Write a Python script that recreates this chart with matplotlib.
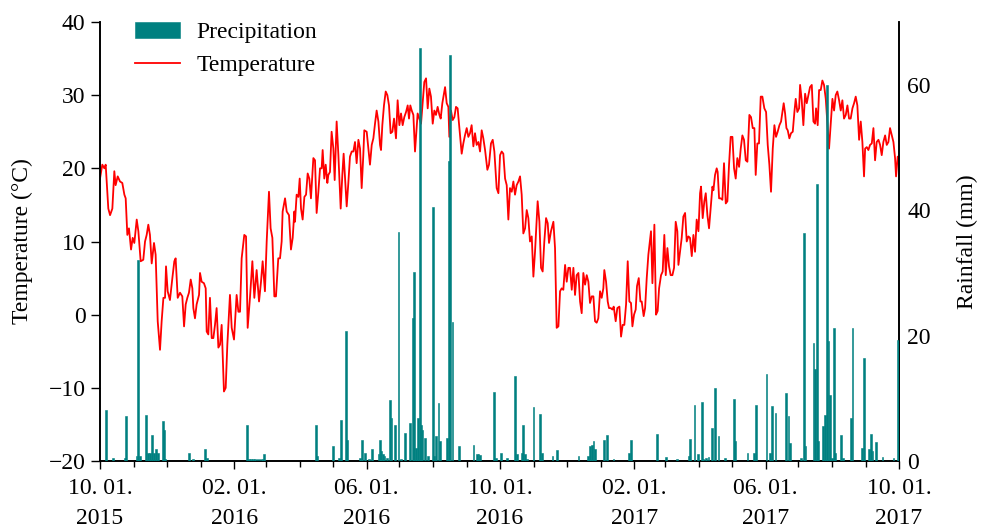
import matplotlib
matplotlib.use("Agg")
import matplotlib.pyplot as plt
import matplotlib.dates as mdates
import numpy as np
import datetime as dt

# ---------------- data ----------------
start_date = dt.datetime(2015, 10, 1)
end_date = dt.datetime(2017, 10, 1)

# daily mean temperature: day offset from 2015-10-01 and value in deg C
temp_days = [
    0, 2.1, 4.0, 5.2, 7.6, 9.2, 11.3, 13.1, 14.3, 16.2, 18.3, 20.4, 22.3, 23.5, 25.0, 26.5, 28.4, 29.9,
    31.4, 33.6, 35.1, 37.2, 39.6, 41.2, 42.7, 44.2, 45.7, 47.3, 49.4, 50.9, 52.8, 54.9, 56.4, 58.0,
    59.5, 60.4, 61.9, 64.0, 66.2, 68.0, 69.2, 71.1, 73.2, 75.3, 76.9, 78.4, 79.9, 81.4, 83.0, 84.5,
    85.4, 86.9,
    88.4, 90.6, 91.5, 93.0, 95.1, 96.7, 97.6, 99.1, 100.6, 102.2, 103.7, 105.2, 106.7, 108.3, 109.8,
    111.3, 113.4, 115.0, 116.5, 118.9, 120.5, 122.6, 125.0, 126.6, 128.1, 129.6, 132.0, 133.6, 135.1,
    137.2, 139.4, 141.2, 143.3, 145.5, 147.3, 148.8, 150.9, 152.5, 154.6, 156.1, 157.7, 159.5, 161.0,
    163.1, 164.7, 166.2, 167.1, 169.3, 170.8, 172.9, 174.7, 176.3, 177.8,
    178.4, 179.9, 181.5, 182.7, 183.9, 185.4, 187.0, 188.5, 190.0, 191.5, 193.0, 195.2, 196.7, 198.2,
    199.8, 201.3, 202.8, 203.7, 205.2, 206.5, 208.0, 208.9, 210.4, 211.9, 213.5, 214.7, 216.5, 218.1,
    220.2, 221.7, 222.9, 224.2, 225.7, 227.2, 228.7, 230.3, 231.8, 233.3, 234.8, 236.4, 237.9, 239.4,
    240.9, 241.8, 244.0, 245.5, 247.0, 248.6, 250.1, 251.6, 253.1, 254.7, 256.2, 257.1, 258.3, 259.8,
    261.4, 262.9, 264.4, 265.9, 267.5, 269.0,
    270.8, 272.3, 273.9, 275.4, 276.9, 278.4, 280.0, 281.5, 282.7, 283.9, 285.2, 286.7, 288.2, 289.7,
    290.6, 292.2, 293.7, 295.2, 296.7, 298.3, 299.8, 301.3, 302.8, 304.4, 305.9, 307.4, 308.9, 310.5,
    311.7, 313.2, 315.7, 317.2, 318.7, 319.6, 321.1, 322.7, 324.2, 325.7, 327.2, 328.8, 330.9, 332.4,
    333.9, 335.5, 337.0, 338.5, 340.0, 341.6, 343.1, 344.6, 346.2, 347.7, 349.2, 350.7, 352.3, 354.4,
    355.9, 357.7, 359.3, 360.8,
    362.9, 364.5, 366.0, 367.5, 369.0, 370.6, 372.1, 373.6, 375.1, 376.7, 378.2, 379.7, 381.2, 382.8,
    384.3, 385.8, 387.3, 388.9, 390.4, 391.9, 393.4, 395.0, 396.5, 398.0, 399.5, 400.4, 402.0, 403.5,
    405.0, 406.5, 408.1, 409.6, 410.8, 412.6, 414.8, 416.3, 417.8, 419.4, 420.9, 422.4, 423.9, 425.5,
    427.0, 428.5, 430.0, 431.6, 433.1, 434.6, 436.1, 437.7, 439.2, 440.7, 442.2, 443.8, 445.3, 446.8,
    448.3, 449.9, 451.4, 452.9, 454.4,
    455.9, 457.5, 459.0, 460.5, 461.4, 463.0, 464.5, 465.7, 467.2, 468.8, 470.0, 471.8, 473.3, 475.2,
    476.7, 478.2, 479.7, 481.3, 482.8, 484.3, 485.8, 487.1, 488.6, 490.1, 491.3, 492.9, 494.4, 495.6,
    497.4, 498.7, 500.2, 501.7, 504.1, 505.4, 507.2, 508.7, 510.2, 511.5, 513.3, 514.8, 516.3, 517.6,
    519.1, 520.6, 522.1, 523.7, 525.2, 526.7, 528.2, 529.2, 530.7, 532.2, 533.7, 535.3, 536.8, 538.3,
    539.8, 541.4, 542.9, 544.4, 545.9, 547.5, 549.0,
    549.9, 551.4, 552.9, 554.2, 555.7, 557.2, 558.7, 560.3, 561.2, 562.7, 564.2, 565.1, 566.4, 567.9,
    569.4, 570.9, 572.5, 574.0, 575.5, 577.0, 578.6, 580.1, 581.6, 583.1, 584.7, 586.2, 587.7, 589.2,
    590.8, 592.3, 594.1, 595.6, 597.2, 598.7, 599.9, 601.4, 602.9, 604.5, 606.0, 607.8, 609.4, 610.9,
    612.4, 613.9, 615.5, 617.0, 618.5, 620.0, 621.6, 623.1, 624.6, 625.5, 626.8, 628.0, 629.2, 630.7,
    632.2, 633.8, 635.3, 636.5, 638.0, 639.6,
    640.5, 642.0, 643.5, 645.1, 646.6, 648.1, 649.6, 651.2, 652.7, 654.2, 655.1, 656.6, 657.9, 659.4,
    660.9, 662.4, 664.0, 665.5, 667.0, 668.5, 670.1, 671.6, 673.1, 674.6, 676.2, 677.7, 679.2, 680.7,
    682.3, 683.8, 685.3, 686.8, 688.4, 689.9, 691.4, 692.9, 694.5, 696.0, 697.5, 699.0, 700.0, 701.5,
    703.0, 704.5, 706.1, 707.6, 709.1, 710.6, 712.2, 713.7, 715.2, 716.7, 718.3, 719.8, 721.3, 722.8,
    724.4, 725.9, 727.4, 728.3, 729.8, 731.0,
]
temp_values = [
    18.6, 20.5, 20.0, 20.5, 14.5, 13.6, 14.5, 19.6, 17.7, 18.9, 18.2, 18.0, 16.4, 15.9, 10.9, 11.8, 8.9, 10.5,
    9.8, 13.0, 11.4, 7.3, 7.5, 10.0, 10.9, 12.3, 10.9, 7.0, 9.8, 8.2, -0.9, -4.8, -0.9, 2.3,
    2.3, 6.6, 3.2, 2.0, 5.0, 7.3, 7.7, 2.3, 3.0, 2.5, -1.6, 1.4, 2.3, 3.0, 4.8, 3.6,
    0.9, -0.5,
    1.4, 2.7, 5.7, 4.5, 4.3, 3.6, -2.3, -2.7, 2.3, -3.2, -3.2, -1.4, 0.9, -4.5, -4.1,
    -1.4, -10.5, -10.0, -4.1, 2.7, -1.8, -3.4, 2.7, 0.4, 0.4, 7.7, 10.9, 10.7, -1.8,
    2.3, 7.3, 2.3, 6.1, 1.8, 4.5, 7.3, 3.2, 10.0, 16.8, 11.8, 10.5, 2.5, 2.5,
    7.7, 7.7, 10.0, 14.1, 15.9, 14.1, 13.6, 8.9, 10.5, 14.1,
    12.7, 16.4, 16.1, 18.6, 14.5, 13.0, 16.1, 16.4, 19.3, 18.6, 15.9, 21.4, 21.1, 13.9,
    16.8, 20.0, 20.0, 22.5, 18.6, 20.5, 18.0, 19.1, 19.5, 25.0, 22.7, 18.4, 26.4, 21.8,
    14.5, 19.1, 22.0, 18.6, 14.8, 18.0, 21.6, 22.3, 22.3, 23.6, 20.7, 23.9, 22.7, 17.3,
    21.8, 25.2, 25.0, 22.7, 20.5, 23.2, 24.1, 26.1, 27.9, 26.4, 23.2, 22.5, 25.9, 28.6,
    30.5, 30.0, 28.6, 24.8, 25.0, 26.8,
    24.1, 29.3, 25.9, 27.5, 25.9, 27.0, 27.7, 28.6, 26.8, 28.6, 27.9, 27.3, 22.3, 25.5,
    27.5, 26.8, 26.1, 28.9, 31.8, 32.3, 28.2, 30.9, 29.8, 26.1, 27.9, 27.3, 28.4, 27.3,
    26.8, 28.9, 31.1, 28.9, 28.4, 24.3, 27.9, 26.6, 27.0, 28.4, 28.2, 25.5, 22.0, 23.4,
    24.5, 25.5, 24.3, 24.8, 25.9, 23.0, 24.8, 23.2, 23.6, 22.3, 25.2, 24.1, 22.5, 19.8,
    20.5, 23.4, 23.9, 22.3,
    17.3, 16.6, 21.8, 22.3, 22.0, 18.6, 17.7, 13.0, 17.3, 16.8, 18.2, 16.4, 17.7, 18.2,
    18.9, 16.4, 11.1, 11.8, 14.3, 13.2, 10.0, 10.7, 5.2, 8.6, 13.0, 15.5, 12.7, 6.4,
    5.9, 10.0, 13.2, 12.5, 9.8, 11.4, 12.7, 9.1, -1.8, -1.6, 3.2, 3.6, 3.4, 6.8,
    4.5, 6.4, 6.4, 3.4, 6.4, 2.7, 5.4, 5.7, 1.8, 0.2, 5.7, 4.1, 5.4, 4.5,
    1.6, 2.5, 2.5, -0.9, -1.1,
    -0.5, 3.2, 2.3, 3.6, 6.1, 4.5, 1.8, 0.9, 0.9, 0.7, 1.1, -0.9, 0.9, 1.1,
    -3.0, -1.4, -1.4, 1.4, 7.3, 1.8, 1.6, -1.6, 0.0, 0.7, 3.9, 5.0, 1.8, 1.8,
    -0.2, 0.9, 5.0, 8.2, 11.4, 4.3, 12.3, 0.0, 0.5, 3.6, 5.4, 5.9, 10.9, 5.4,
    9.1, 6.6, 5.4, 5.4, 6.4, 12.7, 11.4, 6.8, 8.6, 10.5, 13.4, 13.9, 10.0, 10.7,
    10.5, 8.0, 10.9, 8.6, 13.0, 11.4, 16.6,
    17.5, 13.2, 15.5, 16.6, 13.6, 11.8, 14.5, 17.5, 17.0, 19.1, 20.0, 19.5, 15.9, 15.9,
    15.7, 20.7, 15.2, 15.5, 20.5, 24.3, 24.3, 20.0, 18.6, 21.4, 20.2, 22.7, 24.5, 23.9,
    21.1, 20.9, 27.3, 27.0, 25.5, 25.5, 19.1, 23.4, 23.4, 29.8, 29.8, 28.2, 27.7, 23.2,
    20.5, 16.8, 22.7, 25.9, 24.3, 25.0, 25.9, 26.4, 27.9, 28.9, 27.5, 25.5, 25.2, 24.1,
    24.8, 25.0, 27.7, 29.5, 27.7, 28.2,
    31.4, 29.3, 25.9, 30.2, 28.9, 30.0, 31.1, 31.4, 26.4, 26.1, 28.2, 25.9, 30.7, 30.7,
    32.0, 31.4, 29.5, 26.1, 22.7, 26.1, 29.5, 27.9, 30.0, 30.5, 29.3, 27.9, 29.3, 26.8,
    27.3, 28.6, 26.8, 26.8, 28.2, 28.9, 29.8, 28.6, 23.9, 26.4, 23.6, 18.9, 22.7, 22.9,
    22.5, 23.2, 23.4, 25.5, 21.1, 23.6, 23.9, 23.2, 21.8, 23.6, 24.5, 23.2, 23.6, 25.5,
    24.5, 23.6, 21.4, 18.9, 21.6, 21.4,
]

# daily precipitation: day offset from 2015-10-01 and amount in mm
rain_days = [
    5.2, 12.2, 22.9, 24.1, 33.5, 35.1, 36.6, 42.1, 43.6, 45.7, 47.3, 49.7, 51.2, 52.8, 57.3, 58.6, 59.5,
    81.4, 85.4, 96.0, 97.6, 134.2, 136, 138, 140, 142, 144, 146, 148, 150.3,
    197.3, 198.8, 212.9, 219.0, 220.2, 224.8, 226.3, 237.9, 239.4, 242.5, 246.1, 248.6, 254.7, 256.2,
    257.1, 258.6, 260.4, 262.3, 265.3, 266.8, 269.9, 273.0,
    275.4, 279.1, 283.9, 286.1, 287.3, 289.1, 290.6, 292.5, 293.7, 294.9, 297.4, 300.4, 304.4, 305.9,
    307.1, 309.6, 311.4, 317.2, 319.3, 320.5, 322.4, 328.5, 341.6, 344.6, 346.2, 347.7, 360.8, 362.0,
    366.9, 372.1, 379.7, 381.2, 385.8, 387.3, 388.9, 391.0, 396.5, 402.6, 404.1, 413.9, 418.1, 437.7,
    446.8, 448.3, 449.9, 451.4, 452.9,
    461.4, 463.6, 469.7, 484.3, 485.8, 509.3, 517.6, 527.6, 538.9, 539.8, 543.8, 546.8,
    550.5, 552.0, 554.2, 556.6, 559.6, 562.7, 565.8, 571.9, 580.1, 581.0, 592.3, 598.4, 599.9, 609.7,
    613.0, 614.6, 617.9, 627.7, 629.8, 631.3,
    641.1, 644.1, 645.4, 652.7, 654.2, 655.7, 657.2, 661.8, 663.4, 664.9, 666.4, 667.6, 669.5, 671.3,
    672.5, 678.0, 680.1, 686.8, 688.4, 696.9, 699.0, 703.6, 705.1, 706.7, 710.0, 715.8, 725.9, 729.8,
]
rain_values = [
    8.2, 0.5, 0.5, 7.2, 0.8, 32.0, 0.8, 7.4, 1.3, 1.3, 4.2, 1.3, 1.9, 1.3, 6.4, 5.0, 0.3,
    1.3, 0.3, 1.9, 0.5, 5.8, 0.3, 0.3, 0.3, 0.3, 0.3, 0.3, 0.3, 1.1,
    5.8, 0.8, 2.4, 0.5, 6.6, 20.7, 3.4, 0.5, 3.4, 1.3, 0.3, 1.9, 1.1, 3.4,
    1.6, 1.1, 0.8, 0.5, 9.8, 6.9, 5.8, 36.5,
    0.3, 4.5, 6.1, 22.8, 30.2, 2.1, 6.9, 65.9, 5.8, 5.0, 3.7, 0.8, 40.5, 0.8,
    4.0, 9.3, 3.2, 3.7, 47.9, 64.7, 22.2, 2.4, 2.6, 1.1, 1.1, 1.0, 11.0, 0.5,
    1.3, 0.4, 13.5, 1.1, 1.3, 5.8, 1.1, 0.3, 8.6, 7.5, 1.2, 0.8, 1.7, 0.8,
    0.8, 2.4, 2.6, 3.2, 1.9,
    3.4, 4.1, 0.3, 1.3, 3.4, 4.3, 0.6, 0.3, 0.8, 3.5, 9.0, 1.1,
    9.4, 0.3, 0.4, 0.6, 5.3, 11.7, 4.0, 0.5, 9.9, 3.2, 1.2, 1.3, 9.0, 13.8,
    1.3, 8.7, 7.7, 10.9, 7.2, 2.9,
    0.5, 36.3, 2.4, 18.8, 14.6, 44.2, 3.2, 5.6, 7.4, 59.9, 19.1, 10.6, 0.5, 21.2,
    1.3, 4.2, 0.4, 6.9, 21.2, 2.1, 16.4, 1.9, 4.3, 1.6, 3.1, 0.6, 0.5, 19.3,
]

temp_ticks = [-20, -10, 0, 10, 20, 30, 40]
rain_ticks = [0, 20, 40, 60]

# ---------------- figure ----------------
plt.rcParams['font.family'] = ['Liberation Serif', 'DejaVu Serif']
plt.rcParams['axes.unicode_minus'] = True
FS = 17

temp_dates = [start_date + dt.timedelta(days=d) for d in temp_days]
rain_dates = [start_date + dt.timedelta(days=d) for d in rain_days]

fig = plt.figure(figsize=(9.81, 5.29), dpi=100)
ax = fig.add_axes([100 / 981, (529 - 461) / 529, 799 / 981, 439 / 529])
ax2 = ax.twinx()

line, = ax.plot(temp_dates, temp_values, color='#ff0000', lw=1.3, label='Temperature', zorder=2)
bars = ax2.bar(rain_dates, rain_values, width=1.6, color='#008080', edgecolor='#008080',
               linewidth=0.4, label='Precipitation', zorder=3)

ax.set_xlim(start_date, end_date)
ax.set_ylim(-20, 40)
ax2.set_ylim(0, 70)
ax.set_yticks(temp_ticks)
ax2.set_yticks(rain_ticks)

ax.xaxis.set_major_locator(mdates.MonthLocator(bymonth=[2, 6, 10], bymonthday=1))
ax.xaxis.set_minor_locator(mdates.MonthLocator())
ax.xaxis.set_major_formatter(mdates.DateFormatter('%m. %d.\n%Y'))

for lab in ax.get_xticklabels():
    lab.set_linespacing(1.55)

ax.tick_params(axis='x', which='major', direction='out', length=5.5, width=1.0,
               labelsize=FS, pad=7)
ax.tick_params(axis='x', which='minor', direction='out', length=4, width=1.0)
ax.tick_params(axis='y', direction='out', length=6.5, width=1.0, labelsize=FS, pad=4)
ax2.tick_params(axis='y', direction='in', length=0, labelsize=FS, pad=6)

for a in (ax, ax2):
    a.spines['top'].set_visible(False)
    for s in ('left', 'right', 'bottom'):
        a.spines[s].set_linewidth(1.2)

ax.set_ylabel('Temperature (°C)', fontsize=FS, labelpad=11)
ax2.set_ylabel('Rainfall (mm)', fontsize=FS, labelpad=19)

leg = ax2.legend([bars, line], ['Precipitation', 'Temperature'], loc='upper left',
                 bbox_to_anchor=(0.044, 1.0), frameon=False, fontsize=FS,
                 handlelength=1.9, handleheight=0.65, handletextpad=0.7,
                 labelspacing=0.5, borderpad=0.0, borderaxespad=0.0)

fig.savefig('out.png', dpi=100)
